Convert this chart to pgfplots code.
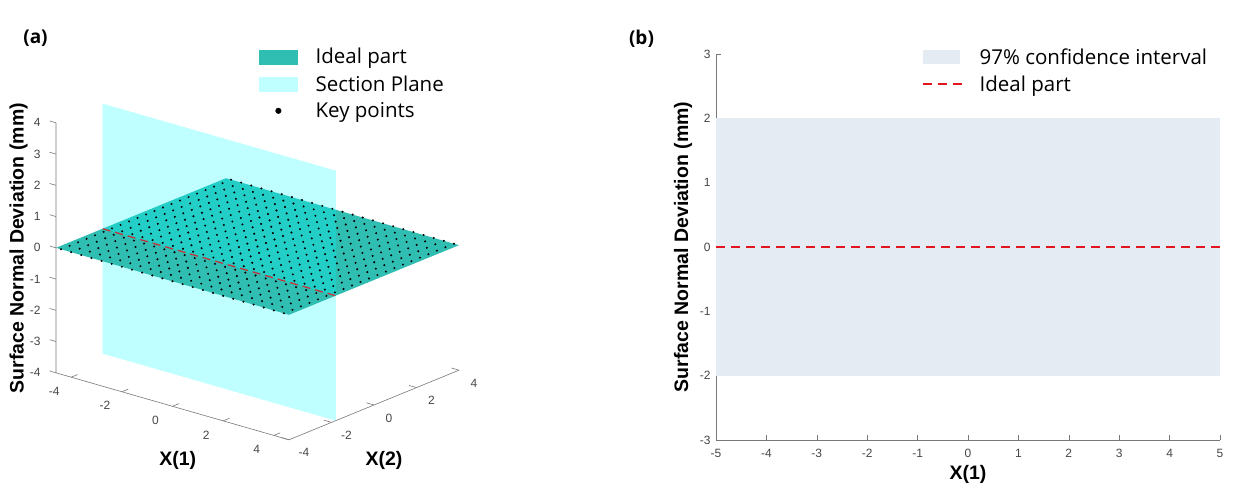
\documentclass[border=0pt]{standalone}
\usepackage{fontspec}
\setmainfont{Liberation Sans}
\newfontfamily\osans{Open Sans}
\usepackage{pgfplots}
\pgfplotsset{compat=1.18}
\definecolor{ideal}{RGB}{48,190,179}
\definecolor{secl}{RGB}{191,255,255}
\definecolor{cyn}{RGB}{0,255,255}
\definecolor{band}{RGB}{228,235,243}
\definecolor{redd}{RGB}{226,22,30}
\definecolor{tickc}{RGB}{70,70,70}
\definecolor{axc}{RGB}{120,120,120}
\newcommand\tickfont{\fontsize{12}{12}\selectfont}
\newcommand\labfont{\bfseries\fontsize{19.5}{19.5}\selectfont}
\newcommand\legfont{\osans\fontsize{20.5}{20.5}\selectfont}
\begin{document}
\begin{tikzpicture}[x=1pt,y=1pt]
\useasboundingbox (0,0) rectangle (1234,496);

\begin{axis}[
 hide axis, clip=false,
 x={(25.33pt,-7.28pt)}, y={(21.25pt,8.7pt)}, z={(0pt,31.25pt)},
 xmin=-4.6, xmax=4.6, ymin=-4, ymax=4, zmin=-4, zmax=4,
 anchor=origin, at={(257.5pt,249.5pt)},
 legend cell align=left,
 legend style={draw=none, fill=none, at={(axis cs:0.035,0.029,6.41)}, anchor=north west, font=\legfont, inner sep=0pt, row sep=6pt,
   /tikz/every odd column/.append style={column sep=16pt}},
]
\addlegendimage{legend image code/.code={\fill[ideal] (0pt,-7pt) rectangle (38pt,7pt);}}
\addlegendentry{Ideal part}
\addlegendimage{legend image code/.code={\fill[secl] (0pt,-7pt) rectangle (38pt,7pt);}}
\addlegendentry{Section Plane}
\addlegendimage{legend image code/.code={\fill[black] (19pt,0pt) circle (2.8pt);}}
\addlegendentry{Key points}
% section plane, part below the ideal part
\addplot3[fill=cyn, fill opacity=0.25, draw=none, forget plot] coordinates {(-4.6,-1.8,-4) (4.6,-1.8,-4) (4.6,-1.8,0) (-4.6,-1.8,0)};
% ideal part
\addplot3[fill=ideal, draw=none, forget plot] coordinates {(-4.6,-4,0) (4.6,-4,0) (4.6,4,0) (-4.6,4,0)};
% key points
\addplot3[only marks, mark=*, mark size=0.8pt, black, forget plot] coordinates {
(-4.4,-4,0) (-4,-4,0) (-3.6,-4,0) (-3.2,-4,0) (-2.8,-4,0) (-2.4,-4,0) (-2,-4,0) (-1.6,-4,0) (-1.2,-4,0) (-0.8,-4,0) (-0.4,-4,0) (0,-4,0) (0.4,-4,0) (0.8,-4,0) (1.2,-4,0) (1.6,-4,0) (2,-4,0) (2.4,-4,0) (2.8,-4,0) (3.2,-4,0) (3.6,-4,0) (4,-4,0) (4.4,-4,0)
(-4.4,-3.6,0) (-4,-3.6,0) (-3.6,-3.6,0) (-3.2,-3.6,0) (-2.8,-3.6,0) (-2.4,-3.6,0) (-2,-3.6,0) (-1.6,-3.6,0) (-1.2,-3.6,0) (-0.8,-3.6,0) (-0.4,-3.6,0) (0,-3.6,0) (0.4,-3.6,0) (0.8,-3.6,0) (1.2,-3.6,0) (1.6,-3.6,0) (2,-3.6,0) (2.4,-3.6,0) (2.8,-3.6,0) (3.2,-3.6,0) (3.6,-3.6,0) (4,-3.6,0) (4.4,-3.6,0)
(-4.4,-3.2,0) (-4,-3.2,0) (-3.6,-3.2,0) (-3.2,-3.2,0) (-2.8,-3.2,0) (-2.4,-3.2,0) (-2,-3.2,0) (-1.6,-3.2,0) (-1.2,-3.2,0) (-0.8,-3.2,0) (-0.4,-3.2,0) (0,-3.2,0) (0.4,-3.2,0) (0.8,-3.2,0) (1.2,-3.2,0) (1.6,-3.2,0) (2,-3.2,0) (2.4,-3.2,0) (2.8,-3.2,0) (3.2,-3.2,0) (3.6,-3.2,0) (4,-3.2,0) (4.4,-3.2,0)
(-4.4,-2.8,0) (-4,-2.8,0) (-3.6,-2.8,0) (-3.2,-2.8,0) (-2.8,-2.8,0) (-2.4,-2.8,0) (-2,-2.8,0) (-1.6,-2.8,0) (-1.2,-2.8,0) (-0.8,-2.8,0) (-0.4,-2.8,0) (0,-2.8,0) (0.4,-2.8,0) (0.8,-2.8,0) (1.2,-2.8,0) (1.6,-2.8,0) (2,-2.8,0) (2.4,-2.8,0) (2.8,-2.8,0) (3.2,-2.8,0) (3.6,-2.8,0) (4,-2.8,0) (4.4,-2.8,0)
(-4.4,-2.4,0) (-4,-2.4,0) (-3.6,-2.4,0) (-3.2,-2.4,0) (-2.8,-2.4,0) (-2.4,-2.4,0) (-2,-2.4,0) (-1.6,-2.4,0) (-1.2,-2.4,0) (-0.8,-2.4,0) (-0.4,-2.4,0) (0,-2.4,0) (0.4,-2.4,0) (0.8,-2.4,0) (1.2,-2.4,0) (1.6,-2.4,0) (2,-2.4,0) (2.4,-2.4,0) (2.8,-2.4,0) (3.2,-2.4,0) (3.6,-2.4,0) (4,-2.4,0) (4.4,-2.4,0)
(-4.4,-2,0) (-4,-2,0) (-3.6,-2,0) (-3.2,-2,0) (-2.8,-2,0) (-2.4,-2,0) (-2,-2,0) (-1.6,-2,0) (-1.2,-2,0) (-0.8,-2,0) (-0.4,-2,0) (0,-2,0) (0.4,-2,0) (0.8,-2,0) (1.2,-2,0) (1.6,-2,0) (2,-2,0) (2.4,-2,0) (2.8,-2,0) (3.2,-2,0) (3.6,-2,0) (4,-2,0) (4.4,-2,0)
(-4.4,-1.6,0) (-4,-1.6,0) (-3.6,-1.6,0) (-3.2,-1.6,0) (-2.8,-1.6,0) (-2.4,-1.6,0) (-2,-1.6,0) (-1.6,-1.6,0) (-1.2,-1.6,0) (-0.8,-1.6,0) (-0.4,-1.6,0) (0,-1.6,0) (0.4,-1.6,0) (0.8,-1.6,0) (1.2,-1.6,0) (1.6,-1.6,0) (2,-1.6,0) (2.4,-1.6,0) (2.8,-1.6,0) (3.2,-1.6,0) (3.6,-1.6,0) (4,-1.6,0) (4.4,-1.6,0)
(-4.4,-1.2,0) (-4,-1.2,0) (-3.6,-1.2,0) (-3.2,-1.2,0) (-2.8,-1.2,0) (-2.4,-1.2,0) (-2,-1.2,0) (-1.6,-1.2,0) (-1.2,-1.2,0) (-0.8,-1.2,0) (-0.4,-1.2,0) (0,-1.2,0) (0.4,-1.2,0) (0.8,-1.2,0) (1.2,-1.2,0) (1.6,-1.2,0) (2,-1.2,0) (2.4,-1.2,0) (2.8,-1.2,0) (3.2,-1.2,0) (3.6,-1.2,0) (4,-1.2,0) (4.4,-1.2,0)
(-4.4,-0.8,0) (-4,-0.8,0) (-3.6,-0.8,0) (-3.2,-0.8,0) (-2.8,-0.8,0) (-2.4,-0.8,0) (-2,-0.8,0) (-1.6,-0.8,0) (-1.2,-0.8,0) (-0.8,-0.8,0) (-0.4,-0.8,0) (0,-0.8,0) (0.4,-0.8,0) (0.8,-0.8,0) (1.2,-0.8,0) (1.6,-0.8,0) (2,-0.8,0) (2.4,-0.8,0) (2.8,-0.8,0) (3.2,-0.8,0) (3.6,-0.8,0) (4,-0.8,0) (4.4,-0.8,0)
(-4.4,-0.4,0) (-4,-0.4,0) (-3.6,-0.4,0) (-3.2,-0.4,0) (-2.8,-0.4,0) (-2.4,-0.4,0) (-2,-0.4,0) (-1.6,-0.4,0) (-1.2,-0.4,0) (-0.8,-0.4,0) (-0.4,-0.4,0) (0,-0.4,0) (0.4,-0.4,0) (0.8,-0.4,0) (1.2,-0.4,0) (1.6,-0.4,0) (2,-0.4,0) (2.4,-0.4,0) (2.8,-0.4,0) (3.2,-0.4,0) (3.6,-0.4,0) (4,-0.4,0) (4.4,-0.4,0)
(-4.4,0,0) (-4,0,0) (-3.6,0,0) (-3.2,0,0) (-2.8,0,0) (-2.4,0,0) (-2,0,0) (-1.6,0,0) (-1.2,0,0) (-0.8,0,0) (-0.4,0,0) (0,0,0) (0.4,0,0) (0.8,0,0) (1.2,0,0) (1.6,0,0) (2,0,0) (2.4,0,0) (2.8,0,0) (3.2,0,0) (3.6,0,0) (4,0,0) (4.4,0,0)
(-4.4,0.4,0) (-4,0.4,0) (-3.6,0.4,0) (-3.2,0.4,0) (-2.8,0.4,0) (-2.4,0.4,0) (-2,0.4,0) (-1.6,0.4,0) (-1.2,0.4,0) (-0.8,0.4,0) (-0.4,0.4,0) (0,0.4,0) (0.4,0.4,0) (0.8,0.4,0) (1.2,0.4,0) (1.6,0.4,0) (2,0.4,0) (2.4,0.4,0) (2.8,0.4,0) (3.2,0.4,0) (3.6,0.4,0) (4,0.4,0) (4.4,0.4,0)
(-4.4,0.8,0) (-4,0.8,0) (-3.6,0.8,0) (-3.2,0.8,0) (-2.8,0.8,0) (-2.4,0.8,0) (-2,0.8,0) (-1.6,0.8,0) (-1.2,0.8,0) (-0.8,0.8,0) (-0.4,0.8,0) (0,0.8,0) (0.4,0.8,0) (0.8,0.8,0) (1.2,0.8,0) (1.6,0.8,0) (2,0.8,0) (2.4,0.8,0) (2.8,0.8,0) (3.2,0.8,0) (3.6,0.8,0) (4,0.8,0) (4.4,0.8,0)
(-4.4,1.2,0) (-4,1.2,0) (-3.6,1.2,0) (-3.2,1.2,0) (-2.8,1.2,0) (-2.4,1.2,0) (-2,1.2,0) (-1.6,1.2,0) (-1.2,1.2,0) (-0.8,1.2,0) (-0.4,1.2,0) (0,1.2,0) (0.4,1.2,0) (0.8,1.2,0) (1.2,1.2,0) (1.6,1.2,0) (2,1.2,0) (2.4,1.2,0) (2.8,1.2,0) (3.2,1.2,0) (3.6,1.2,0) (4,1.2,0) (4.4,1.2,0)
(-4.4,1.6,0) (-4,1.6,0) (-3.6,1.6,0) (-3.2,1.6,0) (-2.8,1.6,0) (-2.4,1.6,0) (-2,1.6,0) (-1.6,1.6,0) (-1.2,1.6,0) (-0.8,1.6,0) (-0.4,1.6,0) (0,1.6,0) (0.4,1.6,0) (0.8,1.6,0) (1.2,1.6,0) (1.6,1.6,0) (2,1.6,0) (2.4,1.6,0) (2.8,1.6,0) (3.2,1.6,0) (3.6,1.6,0) (4,1.6,0) (4.4,1.6,0)
(-4.4,2,0) (-4,2,0) (-3.6,2,0) (-3.2,2,0) (-2.8,2,0) (-2.4,2,0) (-2,2,0) (-1.6,2,0) (-1.2,2,0) (-0.8,2,0) (-0.4,2,0) (0,2,0) (0.4,2,0) (0.8,2,0) (1.2,2,0) (1.6,2,0) (2,2,0) (2.4,2,0) (2.8,2,0) (3.2,2,0) (3.6,2,0) (4,2,0) (4.4,2,0)
(-4.4,2.4,0) (-4,2.4,0) (-3.6,2.4,0) (-3.2,2.4,0) (-2.8,2.4,0) (-2.4,2.4,0) (-2,2.4,0) (-1.6,2.4,0) (-1.2,2.4,0) (-0.8,2.4,0) (-0.4,2.4,0) (0,2.4,0) (0.4,2.4,0) (0.8,2.4,0) (1.2,2.4,0) (1.6,2.4,0) (2,2.4,0) (2.4,2.4,0) (2.8,2.4,0) (3.2,2.4,0) (3.6,2.4,0) (4,2.4,0) (4.4,2.4,0)
(-4.4,2.8,0) (-4,2.8,0) (-3.6,2.8,0) (-3.2,2.8,0) (-2.8,2.8,0) (-2.4,2.8,0) (-2,2.8,0) (-1.6,2.8,0) (-1.2,2.8,0) (-0.8,2.8,0) (-0.4,2.8,0) (0,2.8,0) (0.4,2.8,0) (0.8,2.8,0) (1.2,2.8,0) (1.6,2.8,0) (2,2.8,0) (2.4,2.8,0) (2.8,2.8,0) (3.2,2.8,0) (3.6,2.8,0) (4,2.8,0) (4.4,2.8,0)
(-4.4,3.2,0) (-4,3.2,0) (-3.6,3.2,0) (-3.2,3.2,0) (-2.8,3.2,0) (-2.4,3.2,0) (-2,3.2,0) (-1.6,3.2,0) (-1.2,3.2,0) (-0.8,3.2,0) (-0.4,3.2,0) (0,3.2,0) (0.4,3.2,0) (0.8,3.2,0) (1.2,3.2,0) (1.6,3.2,0) (2,3.2,0) (2.4,3.2,0) (2.8,3.2,0) (3.2,3.2,0) (3.6,3.2,0) (4,3.2,0) (4.4,3.2,0)
(-4.4,3.6,0) (-4,3.6,0) (-3.6,3.6,0) (-3.2,3.6,0) (-2.8,3.6,0) (-2.4,3.6,0) (-2,3.6,0) (-1.6,3.6,0) (-1.2,3.6,0) (-0.8,3.6,0) (-0.4,3.6,0) (0,3.6,0) (0.4,3.6,0) (0.8,3.6,0) (1.2,3.6,0) (1.6,3.6,0) (2,3.6,0) (2.4,3.6,0) (2.8,3.6,0) (3.2,3.6,0) (3.6,3.6,0) (4,3.6,0) (4.4,3.6,0)
(-4.4,4,0) (-4,4,0) (-3.6,4,0) (-3.2,4,0) (-2.8,4,0) (-2.4,4,0) (-2,4,0) (-1.6,4,0) (-1.2,4,0) (-0.8,4,0) (-0.4,4,0) (0,4,0) (0.4,4,0) (0.8,4,0) (1.2,4,0) (1.6,4,0) (2,4,0) (2.4,4,0) (2.8,4,0) (3.2,4,0) (3.6,4,0) (4,4,0) (4.4,4,0)
};
% section line
\addplot3[redd, line width=1.3pt, dash pattern=on 8pt off 5pt, forget plot] coordinates {(-4.6,-1.8,0) (4.6,-1.8,0)};
% section plane, part above the ideal part
\addplot3[fill=cyn, fill opacity=0.25, draw=none, forget plot] coordinates {(-4.6,-1.8,0) (4.6,-1.8,0) (4.6,-1.8,4) (-4.6,-1.8,4)};
% axis lines, ticks and tick labels
\draw[axc, line width=0.6pt] (axis cs:-4.6,-4,4) -- (axis cs:-4.6,-4,-4) -- (axis cs:4.6,-4,-4) -- (axis cs:4.6,4,-4);
\pgfplotsinvokeforeach{-4,-2,0,2,4}{
  \draw[axc, line width=0.6pt] (axis cs:#1,-4,-4) -- (axis cs:#1,-3.7,-4);
  \node[font=\tickfont, text=tickc, xshift=-17pt, yshift=-14pt] at (axis cs:#1,-4,-4) {#1};
  \draw[axc, line width=0.6pt] (axis cs:4.6,#1,-4) -- (axis cs:4.3,#1,-4);
  \node[font=\tickfont, text=tickc, xshift=15pt, yshift=-13pt] at (axis cs:4.6,#1,-4) {#1};
}
\pgfplotsinvokeforeach{-4,-3,-2,-1,0,1,2,3,4}{
  \draw[axc, line width=0.6pt] (axis cs:-4.6,-4,#1) -- (axis cs:-4.85,-4,#1);
  \node[font=\tickfont, text=tickc, anchor=east, xshift=-12pt] at (axis cs:-4.6,-4,#1) {#1};
}
\end{axis}

\node[font=\labfont, rotate=90] at (18.5,247.7) {Surface Normal Deviation (mm)};
\node[font=\labfont] at (177.7,36) {X(1)};
\node[font=\labfont] at (384,36) {X(2)};

\begin{axis}[
 at={(716pt,56pt)}, anchor=south west, scale only axis, width=504pt, height=386pt,
 xmin=-5, xmax=5, ymin=-3, ymax=3,
 xtick={-5,-4,...,5}, ytick={-3,-2,...,3},
 axis x line*=bottom, axis y line*=left,
 axis line style={axc, line width=0.6pt},
 tick style={axc, line width=0.6pt}, tick align=inside, major tick length=5pt,
 /pgf/number format/assume math mode=true,
 xticklabel style={font=\tickfont, text=tickc, yshift=-6pt},
 yticklabel style={font=\tickfont, text=tickc, xshift=-2pt},
 xlabel={X(1)}, ylabel={Surface Normal Deviation (mm)},
 xlabel style={font=\labfont, at={(axis description cs:0.5,-0.09)}, anchor=center},
 ylabel style={font=\labfont, at={(axis description cs:-0.0655,0.5)}, anchor=center},
 legend cell align=left,
 legend style={draw=none, fill=none, at={(axis description cs:0.4087,1.02)}, anchor=north west, font=\legfont, inner sep=0pt, row sep=6pt,
   /tikz/every odd column/.append style={column sep=15pt}},
]
\addplot[fill=band, draw=none, legend image code/.code={\fill[band] (0pt,-7pt) rectangle (37pt,7pt);}] coordinates {(-5,-2) (5,-2) (5,2) (-5,2)};
\addlegendentry{97\% confidence interval}
\addplot[redd, line width=2pt, dash pattern=on 8.5pt off 6.5pt, legend image code/.code={\draw[redd, line width=2pt, dash pattern=on 8.5pt off 6.5pt] (0pt,0pt) -- (38.5pt,0pt);}] coordinates {(-5,0) (5,0)};
\addlegendentry{Ideal part}
\end{axis}

\node[font=\osans\bfseries\fontsize{19}{19}\selectfont] at (35.5,457.5) {(a)};
\node[font=\osans\bfseries\fontsize{19}{19}\selectfont] at (641.5,457) {(b)};
\end{tikzpicture}
\end{document}
